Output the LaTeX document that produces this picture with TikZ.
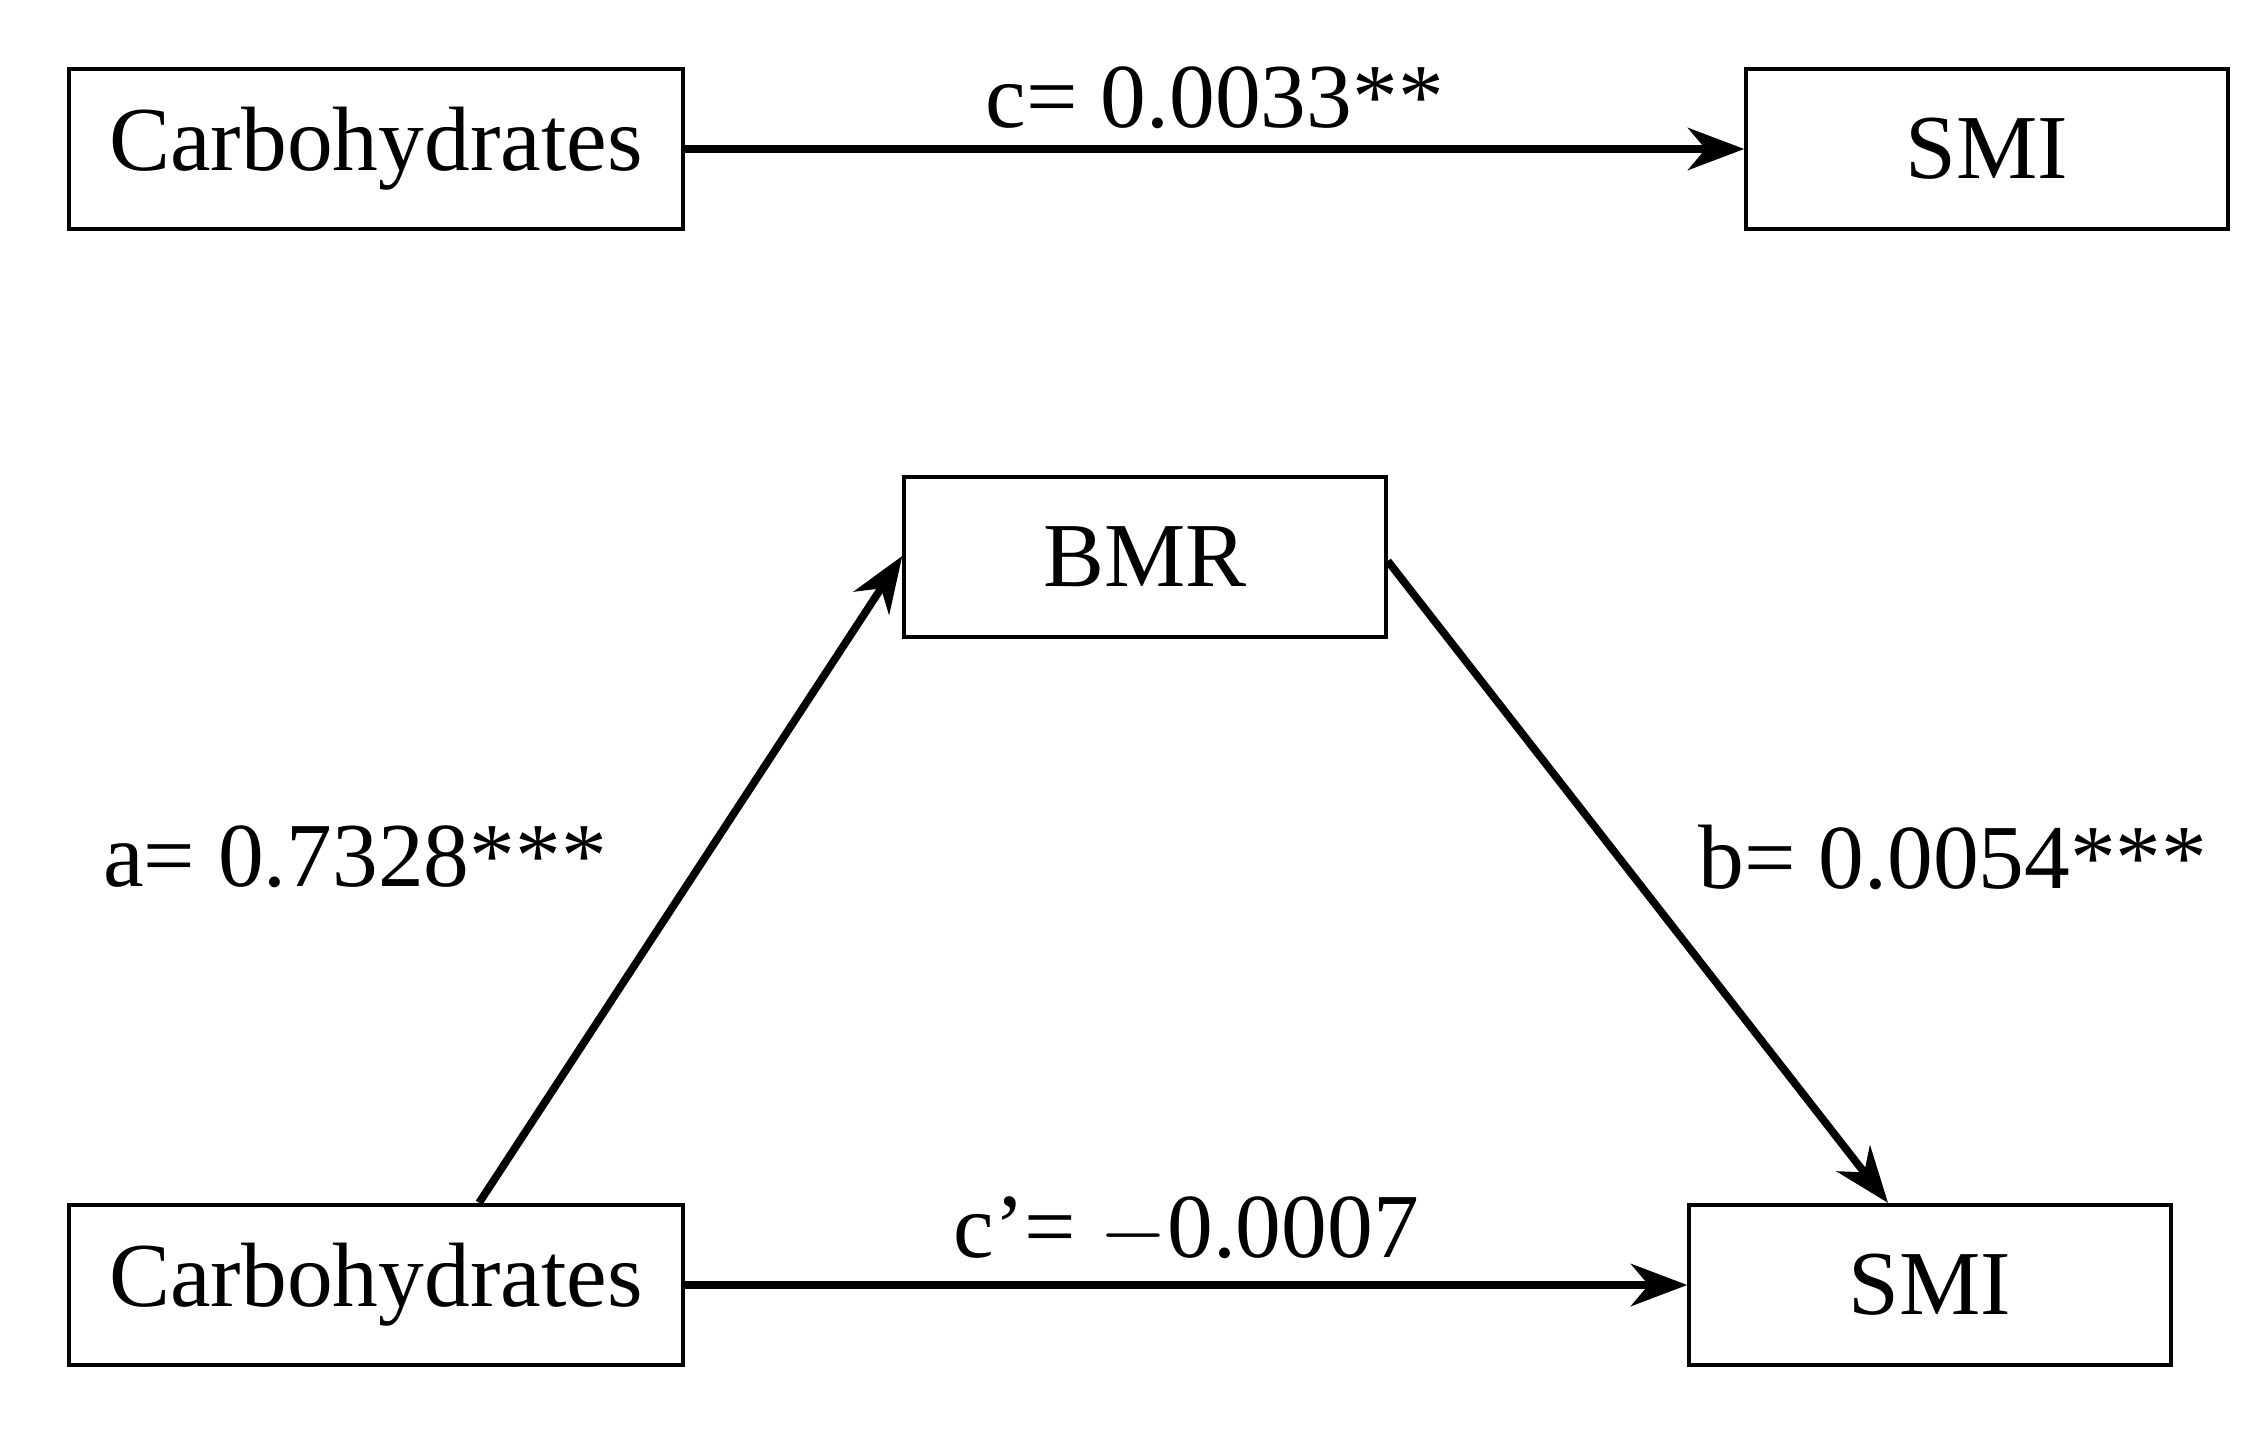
\documentclass[tikz,border=0pt]{standalone}
\usepackage{fontspec}
\setmainfont{Liberation Serif}
\usetikzlibrary{positioning,arrows.meta}
\begin{document}
\begin{tikzpicture}[x=0.01cm,y=0.01cm]
				% Define styles for boxes
				\tikzset{
					var/.style={
						rectangle,
						draw,
						line width=1.2pt,
						minimum width=4.81cm,
						minimum height=1.6cm,
						font=\fontsize{26}{30}\selectfont,
						text centered
					},
					longvar/.style={var, minimum width=6.14cm},
					path/.style={-{Stealth[length=16pt,width=12pt,inset=5pt]}, line width=2.2pt},
					coef/.style={font=\fontsize{26}{30}\selectfont}
				}
				\useasboundingbox (0,0) rectangle (2257,1435);
				% Total effect
				\node[longvar] (carboT) at (376,1286) {Carbohydrates};
				\node[var] (smiT) at (1987,1286) {SMI};
				\draw[path] (carboT) -- (smiT) node[coef, midway, above=0.05cm] (cLab) {c= 0.0033**};
				
				% Mediation model
				\node[var] (bmr) at (1145,878) {BMR};
				\node[longvar] (carboM) at (376,150) {Carbohydrates};
				\node[var] (smiM) at (1930,150) {SMI};
				\draw[path] ([xshift=1.03cm]carboM.north) -- ([yshift=0.01cm]bmr.west);
				\draw[path] ([yshift=-0.04cm]bmr.east) -- ([xshift=-0.42cm]smiM.north);
				\draw[path] (carboM) -- (smiM) node[coef, midway, above=0.05cm] (cpLab) {c’= $-$0.0007};
				
				% Coefficient labels
				\node[coef] (aLab) at (355,578) {a= 0.7328***};
				\node[coef] (bLab) at (1953,578) {b= 0.0054***};
\end{tikzpicture}
\end{document}
